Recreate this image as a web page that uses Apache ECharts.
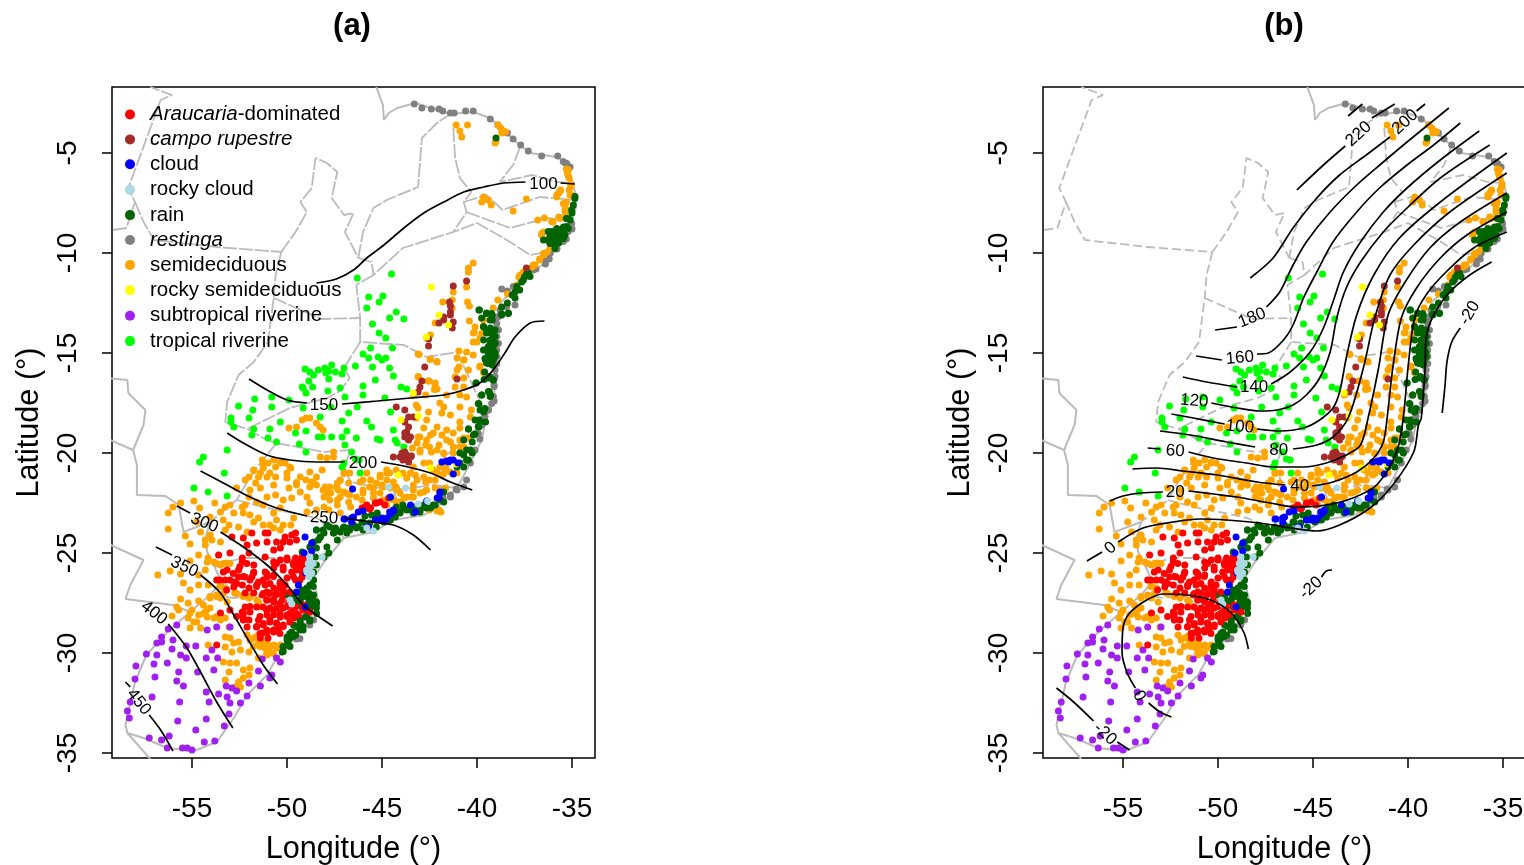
<!DOCTYPE html>
<html><head><meta charset="utf-8">
<style>html,body{margin:0;padding:0;background:#fff}#c{width:1524px;height:865px}</style>
<script src="https://cdn.jsdelivr.net/npm/echarts@6/dist/echarts.min.js"></script>
</head><body><div id="c"></div>
<script>
const lonTicks=[-55,-50,-45,-40,-35];
const latTicks=[-35,-30,-25,-20,-15,-10,-5];
const legendNames=['Araucaria-dominated','campo rupestre','cloud','rocky cloud','rain','restinga','semideciduous','rocky semideciduous','subtropical riverine','tropical riverine'];

const restinga=[[-43.3,-2.55],[-42.9,-2.75],[-42.4,-2.8],[-42,-2.8],[-41.8,-2.9],[-41.4,-3],[-41.2,-3],[-40.6,-2.9],[-40.2,-2.9],[-39.3,-3.3],[-38.9,-3.6],[-38.4,-4],[-38.1,-4.3],[-37.7,-4.6],[-37.3,-4.9],[-36.6,-5.15],[-35.75,-5.15],[-35.35,-5.5],[-35.1,-5.7],[-35,-8.8],[-35.3,-9.3],[-35.8,-9.8],[-36.2,-10.3],[-36.4,-10.55],[-36.9,-10.8],[-38.7,-11.8],[-38.4,-11.9],[-38,-12.6],[-39,-13.3],[-39,-13.8],[-39.05,-14.6],[-39.1,-16.3],[-39.1,-16.6],[-39.1,-17.4],[-39.4,-17.85],[-39.7,-18.3],[-39.85,-19.3],[-40.2,-19.9],[-40.45,-20.4],[-41.1,-21.8],[-41.4,-22.1],[-41.8,-22.2],[-48.8,-28.4],[-49.5,-29.3],
[-40.35,-20.5],[-40.55,-21.35],[-40.7,-21.7],[-41.05,-21.85],[-41.4,-22.2],[-40.1,-19.85],[-48.8,-28.6],[-48.6,-28.35],[-49.32,-29.27],[-35.46,-5.43],[-35.28,-5.52],[-36.16,-10.02],[-36.5,-10.35],[-37.04,-10.85],[-38.09,-11.68],[-35.02,-8.52],[-35.2,-8.93],[-35.46,-9.43],[-35.8,-9.77],[-38.87,-13.18],[-38.96,-13.52],[-38.87,-13.85],[-38.96,-14.18],[-38.87,-14.52],[-38.96,-14.85],[-38.96,-15.18],[-38.96,-15.52],[-39.05,-15.85],[-39.05,-16.18],[-39.1,-16.68],[-39.14,-17.18],[-39.23,-17.52],[-39.4,-17.85],[-39.58,-18.18],[-39.75,-18.6],[-39.93,-19.02],[-38.44,-12.68],[-38.79,-12.85]];

const semideciduous=[[-41.1,-3.6],[-40.5,-3.6],[-40.9,-3.9],[-40.8,-4.2],[-38.9,-3.6],[-38.75,-3.75],[-38.6,-3.9],[-38.5,-3.95],[-38.7,-4],[-39,-4.4],[-39.05,-4.5],[-35.3,-5.8],[-35.25,-6],[-35.15,-6.25],[-35.05,-6.55],[-35.15,-6.85],[-35.05,-7.1],[-35.6,-6.85],[-35.7,-7],[-35.8,-7.2],[-35.3,-7.45],[-35.35,-7.7],[-35.35,-8],[-35.7,-8.2],[-36,-8.45],[-36.45,-8.25],[-36.8,-8.35],[-36.5,-8.95],[-36.6,-9.1],[-39.65,-7.2],[-39.4,-7.35],[-39.75,-7.45],[-39.25,-7.6],[-37.4,-7.3],[-38.1,-7.9],[-36.15,-9.75],[-36.3,-9.95],[-36.5,-10.1],[-36.7,-10.35],[-36.95,-10.6],[-37.1,-10.7],[-37.55,-10.95],[-37.8,-11.2],[-37.7,-11.3],[-37.9,-11.6],[-38.4,-12.05],[-38.9,-12.35],[-39.15,-12.75],[-40.2,-10.5],[-40.45,-10.75],[-40.45,-10.95],[-40.55,-11.7],[-41.25,-11.95],[-40.5,-12.45],[-40.4,-12.65],[-41.8,-12.45],[-41.3,-12.35],[-41.3,-12.75],[-42.2,-13.5],[-40.4,-13.4],[-40.1,-13.7],[-39.65,-13.35],[-40.2,-14],[-39.85,-14.25],[-40,-14.45],[-40.2,-14.45],[-42.45,-14.1],[-42.65,-14.25],[-43.1,-15.05],[-42.45,-15.3],[-42.1,-15.45],[-40.95,-14.9],[-40.55,-14.95],[-41.05,-15.25],[-40.7,-15.35],[-40.2,-15.1],[-40.95,-15.7],[-40.45,-15.85],[-41.05,-15.85],[-39.85,-15.7],[-39.65,-15.95],[-41.15,-16.2],[-41.15,-16.7],[-40.7,-16.25],[-40.7,-16.7],[-43.1,-16.2],[-42.6,-16.4],[-42.2,-16.5],[-42.1,-16.8],[-40.9,-17.1],[-40.55,-17.2],[-41.6,-17.1],[-42.7,-17.1],[-43.35,-17.1],[-43.2,-17.6],[-43.1,-17.75],[-41.95,-17.5],[-41.75,-17.7],[-40.9,-17.7],[-40.3,-17.85],[-42.55,-17.95],[-41.85,-18],[-41.4,-18.1],[-40.35,-18.2],[-43.2,-18.25],[-42.65,-18.35],[-40.9,-18.45],[-48.8,-18.25],[-49.2,-18.35],[-48.45,-18.5],[-49,-18.25],
[-49.9,-18.75],[-48.1,-18.85],[-48.25,-18.7],[-49.5,-18.7],[-42.1,-18.7],[-41.6,-18.85],[-40.9,-18.75],[-42.8,-18.75],[-43.1,-19.2],[-42.45,-19.1],[-41.85,-19.1],[-41.25,-19],[-40.7,-19.25],[-40.45,-19.25],[-42.7,-19.6],[-42,-19.6],[-41.4,-19.45],[-40.9,-19.7],[-43.4,-19.75],[-43,-19.95],[-42.4,-19.95],[-41.75,-20],[-41.25,-20],[-51.3,-20.35],[-51,-20.5],[-50.35,-20.45],[-50.1,-20.5],[-50.6,-20.7],[-49.8,-20.75],[-51.75,-20.85],[-51.25,-20.75],[-52,-21.2],[-51.5,-21.2],[-51.05,-21.2],[-50.6,-21.2],[-50,-21.25],[-49.3,-21.2],[-48.8,-20.95],[-48.15,-20.85],[-47,-20.95],[-46.7,-21],[-48.7,-21.45],[-48.45,-21.6],[-47.2,-21.35],[-47.35,-21.5],[-46.75,-21.5],[-46.15,-21.45],[-45.6,-21.35],[-45.1,-21.1],[-44.75,-21],[-44.4,-21.45],[-43.7,-21.25],[-43.25,-21.1],[-42.7,-21.45],[-42.2,-21.35],[-41.65,-20.75],[-41.85,-21.1],[-41.4,-20.95],[-41.05,-21],[-41.65,-21.75],[-52.2,-21.35],[-51.65,-21.5],[-50.7,-21.6],[-49.5,-21.6],[-48.8,-21.7],[-48,-21.7],[-47.3,-21.85],[-47,-21.95],[-47.7,-22],[-46.7,-22.1],[-46,-21.85],[-45.45,-21.75],[-45,-21.6],[-44.2,-21.85],[-43.35,-21.6],[-42.8,-21.95],[-42.2,-21.75],[-43.45,-22.2],[-43.85,-22.25],[-44.2,-22.45],[-44.75,-22.6],[-52.65,-21.75],[-51.95,-21.85],[-51.4,-21.75],[-49.9,-21.75],[-49.3,-21.95],[-48.95,-22.2],[-48.05,-22.2],[-47.35,-22.35],[-46.75,-22.45],[-46.05,-22.35],[-45.45,-22.25],[-44.55,-21.75],[-52,-22.2],[-51.05,-22.2],[-50.6,-22.1],[-50.2,-22.35],[-49.75,-22.25],[-48.8,-22.5],[-48.05,-22.7],[-47.35,-22.6],[-46.65,-22.7],[-42.1,-22.9],[-42,-22.85],[-41.9,-22.95],
[-53.25,-22.7],[-53,-22.6],[-53.5,-22.95],[-52.8,-23],[-52.35,-22.7],[-52.2,-22.6],[-51.6,-22.45],[-51.25,-22.6],[-50.7,-23],[-50.35,-22.75],[-48.95,-22.95],[-48.45,-22.85],[-47.8,-22.85],[-47.2,-23],[-56,-22.7],[-56.25,-23],[-55.6,-22.5],[-54.9,-22.4],[-54.6,-22.75],[-53.8,-22.5],[-54.05,-23.2],[-54.75,-23.45],[-56.25,-23.8],[-53.35,-23.35],[-53.05,-23.6],[-52.3,-23],[-51.95,-23.1],[-51.75,-23.45],[-51.25,-23.6],[-50.9,-23.6],[-50.55,-23.35],[-50.2,-23.6],[-49.8,-23.6],[-49.65,-23.25],[-50.7,-23.75],[-50.35,-23.85],[-51.5,-23.25],[-52.1,-23.95],[-52.55,-23.7],[-53.25,-23.85],[-54.05,-24.1],[-54.55,-23.95],[-55.35,-24.15],[-54.3,-24.35],[-53.95,-24.35],[-53.5,-24.45],[-55.1,-24.55],[-54.3,-24.6],[-54.65,-25.1],[-54.15,-25.25],[-53.85,-25.45],[-55.1,-25.4],[-56.15,-25.9],[-56.8,-26.1],[-55.6,-26.05],[-54.3,-25.85],[-54.2,-25.45],[-54.65,-26.1],[-55.45,-26.5],[-55.1,-26.85],[-54.65,-26.6],[-54.15,-26.6],[-53.2,-25.5],[-53.5,-25.6],[-53.5,-26.6],[-53.25,-26.75],[-53.7,-27.1],[-54.05,-27.25],[-53.5,-27.25],[-53.15,-27.45],[-52.75,-27],[-52.3,-27.1],[-52,-27.25],[-51.5,-27.45],[-51.4,-27.7],[-55.6,-27.3],[-55.8,-27.7],[-55.2,-27.5],[-54.65,-27.4],[-54.4,-27.6],[-54.05,-27.75],[-55,-27.85],[-55.7,-27.85],[-55.1,-28],[-54.65,-28.1],[-54.3,-27.95],[-53.85,-28.25],[-53.5,-28.35],[-54.2,-28.2],[-54.75,-28.45],[-56.05,-28.15],[-55.2,-28.25],[-54.9,-28.45],[-55.1,-28.75],[-54.55,-28.75],[-53.25,-28.25],[-53.05,-28.7],[-53.25,-29.2],[-53,-29.25],[-52.8,-29.5],[-52.55,-29.45],[-52.1,-29.1],[-51.75,-29.25],[-51.5,-29.45],[-51.05,-29.45],[-50.7,-29.6],[-50.35,-29.6],[-51.15,-29.75],[-50.9,-29.95],[-50.55,-29.75],[-52,-29.95],[-52.45,-29.85],[-52.9,-29.95],[-54.15,-29.6],[-53.25,-29.7],[-53.35,-30.45],[-53,-30.5],[-52.65,-30.5],[-53.05,-30.95],[-52.3,-30.85],[-51.95,-30.75],[-52,-31.1],[-52.3,-31.25],[-52.55,-31.45],[-52.75,-31.7],[-53.25,-31.35],[-52.45,-31.7],[-51.05,-30.1],[-51.5,-30.25],
[-42.5,-19.7],[-42.65,-19.35],[-43,-19.85],[-42.1,-19.85],[-41.75,-20.02],[-41.25,-19.7],[-40.9,-19.35],[-40.7,-19.7],[-41.95,-20.7],[-42.1,-21],[-41.75,-21.02],[-42.5,-21.35],[-42.8,-21.2],[-43.15,-21.35],[-43.5,-21],[-43.9,-21],[-44.25,-20.85],[-44.75,-20.85],[-45.1,-21.2],[-44.75,-21.35],[-45.3,-21.5],[-45.65,-21.7],[-46,-22],[-46.35,-22.2],[-45.45,-22],[-45.1,-22],[-44.95,-22.35],[-44.05,-22],[-43.7,-22.2],[-43.35,-21.85],[-43,-22],[-42.65,-21.85],[-44.25,-21.7],[-44.6,-21],[-44.95,-21.7],[-44.4,-22.35],[-44.05,-22.45],[-43.9,-22.7],[-43.35,-22.2],[-46,-21.35],[-45.8,-21],[-47,-21.02],[-47.2,-21.38],[-47.4,-21.7],[-47.75,-21.7],[-47.9,-22.02],[-47.75,-22.35],[-47.2,-22.2],[-46.85,-22.02],[-48.1,-21.85],[-49,-21.35],[-48.6,-21.5],[-48.45,-21.2],[-49.5,-21.48],[-49.85,-20.7],[-50,-21],[-50.35,-20.5],[-50.7,-20.35],[-50.9,-21],[-51.25,-20.5],[-51.4,-21],[-51.75,-20.88],[-42.1,-22.85],[-42.5,-22.85],[-41.95,-21.85],[-47.55,-20.2],[-47.55,-19.95],[-47.9,-20.25],[-48.25,-20.2],[-43.35,-20.7],[-42.8,-20.5],[-43.15,-19.5],[-43,-19.2],[-42.3,-19],[-41.6,-19.35],[-42.5,-20.5],[-42.3,-20.85],
[-53.7,-25.52],[-53.35,-25.52],[-53,-25.52],[-53.53,-26.68],[-53.35,-27.02],[-53.7,-27.18],[-54.05,-27.18],[-52.65,-27.02],[-52.3,-27.18],[-51.95,-27.18],[-51.6,-27.35],[-51.42,-27.68],[-54.4,-28.02],[-54.23,-27.85],[-53.7,-28.18],[-51.6,-29.18],[-51.25,-29.52],[-50.9,-29.68],[-50.55,-29.68],[-51.95,-29.35],[-51.07,-30.02],[-51.42,-29.68],[-50.72,-30.02],[-51.77,-29.68],
[-35.19,-5.85],[-35.19,-6.18],[-35.07,-6.68],[-35.1,-7.1],[-35.63,-6.93],[-35.8,-7.1],[-35.46,-7.52],[-35.37,-7.85],[-35.63,-8.27],[-36.07,-8.43],[-36.6,-9.02],[-36.5,-10.02],[-36.7,-10.3],[-37.04,-10.6],[-37.74,-11.1],
[-39.75,-13.27],[-39.75,-14.02],[-40.15,-13.97],[-40.68,-15.35],[-39.84,-15.65],[-39.66,-15.98],[-42.51,-16.4],[-42.21,-16.6],[-42.24,-16.82],[-43.09,-16.18],[-42.47,-15.32],[-42.12,-15.43],[-43.05,-15.07]];

const subtropicalRiverine=[[-55.8,-28.6],[-56.25,-28.8],[-56.6,-29.2],[-56.6,-29.45],[-56.85,-29.5],[-56,-29.35],[-57.4,-30.05],[-56.85,-30.1],[-56.05,-29.8],[-55.6,-30.1],[-55.3,-30.25],[-55.3,-29.65],[-54.8,-29.65],[-54.2,-28.85],[-53.7,-28.7],[-53,-28.7],[-53.95,-29.85],[-53.65,-30.25],[-54.25,-30.25],[-56.3,-30.5],[-57,-30.55],[-57.95,-30.65],[-55.7,-30.95],[-54.7,-30.95],[-53.85,-30.85],[-58,-31.3],[-56.95,-31.2],[-55.8,-31.4],[-55.45,-31.65],[-53.2,-31.65],[-52.9,-31.75],[-52.65,-31.9],[-52,-31.5],[-51.4,-31.65],[-51.5,-30.9],[-50.8,-31.1],[-50.9,-31.25],[-50.55,-30.25],[-50.35,-30.45],[-51.3,-30.3],[-57.1,-32.2],[-54.25,-31.95],[-53.6,-32.05],[-53.15,-32.2],[-52.1,-32.15],[-52.45,-32.5],[-55.65,-32.45],[-53,-32.5],[-54.1,-32.45],[-58.25,-32.45],[-58.4,-32.9],[-58.3,-33.25],[-55.75,-33.4],[-54.25,-33.3],[-53.05,-33.05],[-53.3,-33.65],[-54.8,-33.85],[-57.25,-34.25],[-56.6,-34.35],[-56.2,-34.15],[-56.3,-34.75],[-54.35,-34.45],[-53.8,-34.4],[-55.5,-34.75],[-55.25,-34.75],[-55,-34.85]];

const tropicalRiverine=[[-46.3,-11.25],[-44.5,-11.05],[-45.7,-12.2],[-44.95,-12.15],[-45.8,-12.75],[-45.15,-12.45],[-44.25,-12.95],[-43.85,-13.3],[-44.6,-13.25],[-45.5,-13.55],[-45.15,-14],[-44.8,-14.25],[-44.45,-14.75],[-45.6,-14.75],[-46,-15.05],[-45.7,-15.25],[-45.2,-15.2],[-45,-15.35],[-44.8,-15.25],[-46.4,-15.65],[-45.5,-15.7],[-44.6,-15.75],[-49.05,-15.8],[-48.8,-15.95],[-48.6,-16.1],[-48.35,-15.85],[-48,-15.75],[-47.65,-15.6],[-47.8,-15.9],[-47.45,-15.95],[-47.95,-16],[-47.1,-16.05],[-47,-15.75],[-44.4,-16.15],[-45.35,-16.35],[-48.85,-16.4],[-47.8,-16.3],[-48.65,-16.7],[-49.2,-16.7],[-49.15,-16.75],[-47.2,-16.75],[-46,-16.65],[-44,-16.7],[-43.7,-16.8],[-49,-17],[-47.85,-16.9],[-46,-17.1],[-46.95,-17.2],[-44.85,-17.25],[-51.7,-17.3],[-50.8,-17.2],[-49.9,-17.35],[-52.55,-17.65],[-50.8,-17.7],[-51.8,-17.85],[-49.15,-17.75],[-47.7,-17.7],[-46.3,-17.7],[-44.55,-17.95],[-46.75,-18],[-52,-18.25],[-52.95,-18.25],[-52.95,-18.45],[-48.25,-18.2],[-47.1,-18.4],[-45.8,-18.4],[-50.35,-18.45],[-52.8,-18.7],[-51.75,-18.8],[-50.9,-18.8],[-49,-18.9],[-49.55,-19],[-51.85,-19.1],[-51,-19.25],[-50.55,-19.45],[-53.15,-19.85],[-49.35,-19.55],[-49,-19.95],[-48.35,-19.2],[-48.15,-19.2],[-47.65,-19.2],[-47.1,-19.2],[-46.85,-18.9],[-46.35,-19.25],[-46.95,-19.6],[-46.6,-19.95],[-47,-20.5],[-47.1,-20.7],[-54.4,-20.2],[-54.6,-20.45],[-53.3,-21],[-54.9,-21.75],[-54.15,-21.95],[-53.15,-22.15],[-46.15,-21],[-44.3,-19.35],[-44.2,-19.5],[-43.85,-19.7],[-45.25,-19.3],[-45.1,-19.35],[-45.55,-18.7],[-44.4,-18.85],[-46.4,-20.3],[-46.2,-20.35]];

const rain=[[-39,-4.25],[-34.85,-7.27],[-34.93,-7.6],[-35,-8],[-35.1,-8.35],[-35.2,-8.77],[-35.45,-8.7],[-35.8,-8.77],[-36.07,-8.93],[-35.6,-9],[-35.9,-9.2],[-35.45,-9.27],[-36.3,-9.35],[-36.07,-9.43],[-35.7,-9.5],[-35.9,-9.77],[-35.37,-9.1],[-36.25,-8.93],[-35.3,-8.27],[-35.6,-8.85],[-35.9,-9],[-36.1,-9.2],[-35.7,-9.3],[-35.5,-9],[-37.3,-11],[-37.5,-11.2],[-37.65,-11.45],[-38,-11.95],[-37.75,-11.85],[-38.15,-12.1],[-38,-12.25],[-38.4,-12.5],[-38.7,-12.7],[-38.35,-13],[-38.7,-13.05],[-39.9,-12.85],[-39.5,-13],[-39.2,-13.1],[-39.75,-13.25],[-39.2,-13.35],[-39.65,-13.7],[-39.3,-13.75],[-39.05,-13.85],[-39.5,-14],[-39.15,-14.2],[-39.65,-14.35],[-39.3,-14.45],[-39.05,-14.5],[-39.55,-14.85],[-39.25,-14.75],[-39.05,-15],[-39.4,-15.1],[-39.55,-15.35],[-39.15,-15.35],[-39.5,-15.5],[-39.2,-15.6],[-39.6,-15.95],[-39.4,-16.25],[-39.15,-16.35],[-40.05,-16.5],[-39.35,-16.95],[-39.75,-17.1],[-39.3,-17.1],[-39.9,-17.55],[-39.65,-17.95],[-39.9,-18.35],[-39.55,-18.45],
[-39.9,-18.7],[-40.45,-18.8],[-40.1,-19.05],[-40.25,-19.45],[-40.55,-19.85],[-40.25,-20],[-40.7,-20.1],[-40.45,-20.35],[-40.9,-20.5],[-41.75,-21.95],[-41.95,-22.35],[-42.2,-22.6],[-42.45,-22.75],[-42.8,-22.7],[-43,-22.85],[-43.25,-22.7],[-43.5,-22.85],[-43.85,-22.75],[-44.05,-22.95],[-44.3,-23.2],[-44.55,-23.35],[-44.9,-23.45],[-45.25,-23],[-45.55,-23.1],[-45.9,-23.15],[-46.05,-23.45],[-46.25,-23.7],[-46.5,-23.6],[-46.75,-23.75],[-47,-23.7],[-47.2,-23.95],[-47.45,-23.75],[-47.55,-24],[-47.35,-24.35],[-47.9,-23.6],[-48.05,-24],[-48.25,-24.2],[-48.45,-23.85],[-48.35,-24.35],[-48.6,-24.45],[-47.9,-24.7],[-47.8,-25],[-48.05,-25.2],[-48.45,-24.75],[-48.5,-25.2],[-49.2,-24.95],[-48.8,-24.7],[-48.45,-25.6],[-48.6,-25.95],[-48.6,-26.35],[-48.8,-26.6],[-49.2,-26.85],[-48.85,-27],[-49.2,-27.2],[-48.85,-27.45],[-48.6,-27.1],[-48.45,-27.45],[-48.8,-27.75],[-48.45,-27.75],[-49.05,-28.2],[-48.8,-28.4],[-49.3,-28.45],[-49.4,-28.7],[-49.15,-28.85],[-49.65,-28.6],[-49.75,-28.95],[-50,-29.2],[-49.55,-29.1],[-49.95,-29.45],[-50.2,-29.7],[-49.85,-29.25],[-50.25,-29.95],[-50,-27.1],[-49.65,-27.25],[-49.5,-27.45],[-49.05,-27.1],[-48.7,-27.25],[-48.95,-26.75],[-49.3,-27.45],[-49,-27.85],[-48.6,-27.5],[-48.8,-27.35],[-49.2,-27.7],
[-41.75,-22.45],[-42.3,-22.6],[-42.65,-22.75],[-43,-22.95],[-43.35,-23],[-43.7,-22.85],[-44.05,-23],[-44.3,-23.1],[-44.75,-23.35],[-45.3,-23.7],[-45.65,-23.5],[-46,-23.45],[-46.35,-23.75],[-46.7,-23.85],[-47.05,-23.75],[-47.4,-23.85],[-47.75,-23.7],[-48.1,-23.85],[-48.45,-23.85],[-48.25,-24.2],[-47.55,-24],[-46.85,-24],[-46,-23.85],[-45.3,-23.1],[-44.25,-22.7],[-43.5,-22.7],[-42.8,-22.6],[-43.9,-22.6],[-40.7,-19.35],[-40.9,-20],[-40.55,-20.35],[-40.35,-19.85],[-41.05,-20.7],[-40.7,-20.7],
[-48.97,-26.85],[-48.62,-26.68],[-49.32,-27.02],[-48.97,-27.18],[-48.62,-27.35],[-49.32,-27.35],[-49.67,-27.18],[-48.44,-27.52],[-48.79,-27.68],[-48.44,-28.02],[-48.97,-28.18],[-49.32,-28.35],[-48.79,-28.35],[-49.5,-28.68],[-49.15,-28.68],[-49.85,-29.02],[-50,-29.35],[-49.67,-29.18],[-50.2,-29.68],[-49.84,-29.68],[-50.2,-29.93],[-49.32,-28.85],
[-34.84,-7.18],[-35.02,-7.85],[-35.2,-8.27],[-35.28,-8.68],[-35.63,-8.85],[-35.9,-8.93],[-35.46,-9.1],[-35.72,-9.35],[-36.16,-9.18],[-36.5,-9.35],[-36.16,-9.52],[-35.9,-9.6],[-37.39,-11.02],[-37.56,-11.35],[-37.21,-11.18],[-37.91,-11.68],
[-39.87,-12.85],[-39.49,-13.02],[-39.23,-13.02],[-39.31,-13.35],[-39.66,-13.68],[-39.49,-13.85],[-39.23,-14.02],[-39.05,-14.18],[-39.31,-14.35],[-39.05,-14.52],[-39.4,-14.68],[-39.66,-14.85],[-39.14,-14.85],[-39.31,-15],[-39.58,-15.27],[-39.31,-15.35],[-39.05,-15.18],[-39.4,-15.52],[-40.05,-16.5],[-39.63,-16.32],[-39.35,-16.18],[-39.14,-16.35],[-39.4,-16.93],[-39.75,-17.1],[-39.31,-17.18],[-39.93,-17.52],[-39.84,-17.85],[-39.58,-17.77],[-40.1,-18.35],[-39.84,-18.43],[-39.93,-18.68],[-40.45,-18.8],[-40.19,-19.1],[-38.7,-13.1],[-38.35,-13.02]];

const campoRupestre=[[-41.25,-11.65],[-40.55,-11.4],[-41.45,-12.45],[-41.4,-12.65],[-41.4,-12.95],[-41.4,-13.1],[-41.75,-13.2],[-41.75,-13.35],[-42,-13.5],[-41.25,-13.45],[-41.3,-13.75],[-42.55,-14.3],[-42.55,-14.65],[-42.75,-15.7],[-41.05,-16.3],[-42.9,-16.4],[-43,-16.7],[-43.1,-16.95],[-44.25,-17.7],[-43.8,-17.85],[-43.6,-18.2],[-43.35,-18.2],[-43.8,-18.45],[-37.4,-10.75],[-43.6,-18.7],[-43.7,-18.95],[-43.8,-19.2],[-43.5,-19.2],[-44.4,-20.2],[-43.95,-20],[-44.05,-20.2],[-43.8,-20.2],[-43.5,-20.2],[-43.9,-20.35],[-43.6,-20.45],[-43.8,-19.95],[-43.9,-20.1],[-43.7,-20.1],[-43.45,-20.15],[-43.8,-19],[-43.6,-19.35]];

const rockySemideciduous=[[-42.4,-11.7],[-42,-13.1],[-41.5,-13.6],[-42.65,-14.2],[-43.35,-17],[-44,-18.35],[-43.1,-18.15],[-42.45,-20.75],[-44.15,-21.1],[-41.1,-20.55]];

const araucaria=[[-51.15,-24],[-51,-24],[-50.1,-24.2],[-49.75,-24.1],[-49.55,-24],[-51.05,-24.45],[-50.55,-24.45],[-50.2,-24.45],[-49.85,-24.45],[-49.5,-24.35],[-52.9,-24.2],[-52.3,-24.25],[-51.85,-24],[-53,-25],[-52.1,-24.6],[-52,-25],[-51.6,-24.5],[-50.7,-24.85],[-50.35,-24.75],[-53.6,-25.1],[-52.35,-25.25],[-52.35,-25.45],[-51.75,-25.6],[-51.15,-25.2],[-50.7,-25.45],[-50.35,-25.35],[-50,-25.25],[-49.55,-25.25],[-49.2,-25.2],[-49.05,-25.35],[-49.65,-25.6],[-49.3,-25.6],[-48.95,-25.5],[-53.15,-25.85],[-53.35,-25.95],[-52.55,-25.85],[-51.75,-25.95],[-51.15,-25.95],[-50.7,-25.75],[-50.2,-25.7],[-49.75,-25.95],[-49.2,-25.95],[-49.15,-25.75],[-53.7,-26.35],[-53.25,-26.35],[-52.8,-26.45],[-52.55,-26.2],[-52.2,-26.2],[-51.85,-26.2],[-51.5,-26.45],[-51.05,-26.2],[-50.7,-26.1],[-50.35,-26.45],[-50,-26.25],[-49.55,-26.35],[-49.2,-26.2],[-52.8,-26.7],[-52.35,-26.6],[-52,-26.75],[-51.6,-26.6],[-51.15,-26.6],[-50.7,-26.75],[-50.35,-26.75],[-50.1,-26.6],[-52.2,-27],[-51.75,-27],[-51.3,-27.1],[-51.05,-26.95],[-50.6,-27.1],[-50.25,-27.1],[-49.85,-26.95],[-51.05,-27.35],[-50.7,-27.45],[-50.25,-27.35],[-49.9,-27.45],[-49.55,-27.7],[-49.15,-27.85],[-48.8,-27.95],[-52.2,-27.7],[-52.35,-27.95],[-51.95,-27.95],[-51.6,-27.7],[-51.25,-27.7],[-50.9,-27.75],[-50.55,-27.75],[-50.2,-27.75],[-49.75,-27.95],[-52.3,-28.2],[-52,-28.35],[-51.5,-28.35],[-51.05,-28.1],[-50.7,-28.1],[-50.35,-28.2],[-50,-28.1],[-49.65,-28.25],[-49.4,-28.1],[-52.1,-28.7],[-51.6,-28.7],[-51.25,-28.6],[-50.9,-28.45],[-50.55,-28.5],[-50.2,-28.6],[-49.85,-28.45],[-51.3,-29],[-51.05,-28.95],[-50.7,-28.95],[-50.45,-28.75],[-51.4,-29.25],[-51,-29.25],[-53.7,-29.6],[-53.5,-28],[-45.8,-22.6],[-46.05,-22.75],[-45.6,-22.75],[-45.35,-22.5],[-45.1,-22.45],[-44.65,-22.25],[-49.3,-25.4],[-49,-25.65],[-49.4,-25.8],[-49.6,-25.4],
[-49.32,-25.35],[-48.97,-25.52],[-49.67,-25.52],[-49.5,-25.85],[-49.15,-26.02],[-49.67,-26.18],[-49.32,-26.35],[-50.2,-25.85],[-50,-25.35],[-50.55,-25.52],[-51.07,-26.02],[-50.72,-26.18],[-50.37,-26.52],[-50.9,-26.52],[-51.25,-26.35],[-51.6,-26.68],[-51.95,-26.35],[-52.3,-26.18],[-52.65,-26.52],[-52.83,-26.02],[-52.48,-25.68],[-52.12,-25.52],[-51.77,-26.02],[-53,-26.35],[-53.18,-26.85],[-53.53,-26.35],[-51.25,-27.02],[-50.9,-27.02],[-50.55,-27.02],[-50.2,-26.85],[-50.72,-27.35],[-51.07,-27.35],[-50.37,-27.52],[-50,-27.68],[-50.72,-27.85],[-51.07,-27.85],[-51.42,-28.18],[-50.37,-28.02],[-50,-28.18],[-50.9,-28.35],[-51.25,-28.52],[-51.6,-28.68],[-50.55,-28.52],[-50.2,-28.68],[-51.07,-28.85],[-50.72,-28.85],[-50.37,-29.02],[-51.42,-29.02],[-52.3,-28.02],[-52.65,-28.18],[-52.3,-28.35],[-53,-27.85],[-51.95,-27.68],[-49.67,-27.68],[-49.85,-28.02],[-49.5,-28.02],[-49.15,-27.6],[-45.9,-22.7],[-45.65,-22.8],[-45.3,-22.5],[-44.85,-22.6]];

const cloud=[[-46.55,-21.8],[-44.55,-22.2],[-41.85,-20.45],[-41.5,-20.45],[-41.25,-20.35],[-41,-20.5],[-41.25,-21.05],[-42,-22.25],[-41.95,-22],[-43.5,-22.6],[-43.25,-22.95],[-42.65,-22.4],[-44.4,-22.9],[-44.55,-23.05],[-44.85,-23.35],[-45.1,-23.35],[-45.35,-23.35],[-46,-22.9],[-46.25,-22.95],[-46.6,-23.45],[-47,-23.3],[-46.6,-23.25],[-45.7,-23.7],[-49.05,-24.2],[-48.7,-24.5],[-48.7,-24.9],[-49.1,-25],[-49,-26],[-49.4,-26.6],[-49.5,-26.95],[-49.05,-27.7],[-41.6,-20.4],[-41.4,-20.35],[-41.95,-21.95],[-42.1,-22.25],[-45,-23.25],[-44.75,-23.25],[-44.4,-22.85],[-44.6,-22.95],[-46.95,-23.3],[-46.5,-23.2],[-45.8,-23.7]];

const rockyCloud=[[-44.65,-21.7],[-43.75,-21.75],[-43.1,-22.55],[-42.6,-22.4],[-45.45,-23.9],[-45.8,-23.75],[-48.15,-25.2],[-48.8,-25.25],[-48.8,-25.7],[-48.95,-25.95],[-48.7,-26],[-48.85,-26.2],[-49.75,-27.55],[-48.97,-25.85],[-48.62,-25.52],[-48.88,-25.52],[-49.84,-27.35],[-48.8,-25.2]];

const coastLine=[[-44.9,-3.35],[-44.65,-3],[-44.2,-2.75],[-43.25,-2.5],[-42.45,-2.75],[-41.4,-3.05],[-40.2,-2.95],[-39.3,-3.25],[-38.45,-4],[-37.75,-4.6],[-37.2,-5],[-35.8,-5.2],[-35.25,-5.5],[-34.85,-6.95],[-34.8,-7.75],[-35.1,-8.6],[-35.65,-9.6],[-36.35,-10.45],[-37.2,-11],[-37.9,-11.75],[-38.75,-12.45],[-38.95,-13.25],[-38.95,-14.6],[-39.05,-15.95],[-39.1,-17.45],[-39.5,-18.1],[-39.75,-19.35],[-40.35,-20.5],[-41.05,-21.75],[-41.95,-22.6],[-42.8,-23.1],[-44.4,-23.35],[-45.45,-23.95],[-47,-24.25],[-48.05,-25.45],[-48.6,-26.25],[-48.35,-27.45],[-48.8,-28.25],[-49.85,-29.6],[-50.55,-30.25],[-51.05,-31.1],[-52.1,-32.1],[-52.8,-33.25],[-53.7,-34.45],[-54.9,-34.9],[-56.3,-34.75],[-57.55,-34.25],[-58.4,-34],[-58.5,-33.6],[-58.35,-32.95],[-58,-31.45],[-57.4,-30.1],[-56.3,-28.95],[-55.1,-27.95]];
const westBorder=[[-55.1,-27.95],[-54.05,-27.1],[-53.45,-26.45],[-53.85,-25.6],[-54.2,-24.95],[-54.3,-24.25],[-54.05,-23.45],[-55.45,-23.95],[-55.7,-22.6],[-56.4,-22.15],[-57.9,-22.1],[-57.9,-20.6],[-58.1,-19.85],[-57.55,-18.6],[-57.45,-17.85],[-58.35,-17],[-58.4,-16.35],[-59.5,-16.25]];
const paraguayBorder=[[-59.5,-24.5],[-57.55,-25.35],[-58.25,-26.6],[-58.5,-27.3],[-56,-27.6],[-55.1,-27.95]];
const boliviaBorder=[[-59.3,-19.35],[-58.1,-19.85]];
const laPlataShore=[[-58.4,-34],[-57.2,-35.3]];
const northShore=[[-44.9,-3.35],[-44.95,-2.6],[-45.3,-1.7]];

const stateBorders=[
[[-59.15,-8.85],[-58.45,-8.75],[-58,-7.45],[-58.35,-6.75],[-56.65,-2.35],[-56.05,-2.1],[-57.2,-1.7]],
[[-58,-7.45],[-57.55,-8.45],[-57,-9.35],[-53.7,-9.7],[-50.3,-9.95]],
[[-50.3,-9.95],[-50.6,-11.1],[-50.7,-12.25],[-51,-14.45],[-51.75,-15.45],[-52.55,-16.1],[-53.15,-17.45],[-53.25,-18.45],[-52.1,-18.8],[-51.05,-19.35],[-50.55,-19.5],[-51.6,-20.75],[-52.1,-21.45],[-52.65,-22.35],[-54.05,-23.45]],
[[-50.3,-9.95],[-49.55,-8.95],[-48.95,-7.95],[-49.3,-7.45],[-48.7,-6.75],[-48.5,-5.25],[-47.9,-5.5],[-47.35,-5.95],[-47.65,-7.25],[-47,-8.1],[-46.5,-8],[-46.95,-8.95],[-46.25,-10.25]],
[[-46.25,-10.25],[-46,-8.95],[-45.45,-7.75],[-44.75,-7.35],[-43.1,-6.7],[-42.9,-4.25],[-42.05,-3.45],[-41.4,-3.05]],
[[-46.25,-10.25],[-45.55,-10.45],[-45.45,-11.1],[-43.9,-9.75],[-41.25,-8.95],[-40,-8.5],[-38.25,-9.45],[-37.2,-10.1],[-36.3,-9.95]],
[[-41.25,-3.75],[-41.15,-5.25],[-40.9,-6.25],[-40.3,-6.95],[-40.7,-7.45],[-40.55,-7.95],[-41.25,-8.95]],
[[-40.7,-7.45],[-39.5,-7.1],[-38.65,-7.85],[-36.7,-7.2],[-34.85,-7.35]],
[[-37.75,-4.75],[-38.1,-5.6],[-38.8,-6.45],[-37.1,-6.1],[-35.8,-6.45],[-34.85,-6.5]],
[[-40.55,-7.95],[-38.25,-8.75],[-36.3,-8.25],[-35,-8.4]],
[[-45.45,-11.1],[-46.35,-11.6],[-46.15,-13.25],[-46.15,-14.45],[-43.85,-14.6],[-42.65,-15.2],[-41.05,-14.95],[-39.85,-17.4],[-39.5,-18.1]],
[[-50.7,-12.25],[-48.2,-13.3],[-46.15,-13.25]],
[[-46.15,-14.45],[-47,-15.75],[-46.7,-16.25],[-47.2,-16.9],[-47.9,-17.25],[-49.85,-17.75],[-52.1,-18.8]],
[[-50.55,-19.5],[-48.05,-19.95],[-46.65,-19.85],[-47,-20.75],[-46.65,-21.45],[-45.1,-21.75],[-44.4,-21.85],[-43.5,-21.75],[-42.3,-21.6],[-41.05,-21.75]],
[[-52.65,-22.35],[-51.05,-22.75],[-49.65,-23],[-48.45,-23.25],[-47.35,-23.75],[-47,-24.25]],
[[-39.75,-18.6],[-41.05,-19.6],[-41.75,-20.25],[-42.2,-21.25],[-42.3,-21.6]],
[[-44.4,-21.85],[-44.05,-22.85]],
[[-53.85,-25.6],[-52.3,-25.25],[-51.4,-25.25],[-50.2,-25.25],[-48.6,-25.6]],
[[-54.05,-27.1],[-52.8,-27.25],[-51.75,-27.1],[-50.7,-27.25],[-49.85,-27.6],[-48.8,-28.1]]];

const contoursA=[
[[-48.45,-11.5],[-47.4,-11.3],[-46.5,-10.85],[-45.8,-10.25],[-44.9,-9.6],[-43.85,-8.75],[-42.8,-8],[-41.75,-7.45],[-40.7,-6.95],[-39.65,-6.7],[-38.6,-6.5],[-37.45,-6.45]],
[[-35.6,-6.5],[-34.85,-6.55]],
[[-52,-16.3],[-51.05,-16.85],[-50,-17.35],[-48.95,-17.5]],
[[-47.1,-17.55],[-45.25,-17.4],[-43.5,-17.25],[-41.75,-17.1],[-40.7,-16.85],[-39.85,-16.5],[-39.15,-15.85],[-38.5,-14.95],[-38,-14.2],[-37.2,-13.5],[-36.45,-13.4]],
[[-53.15,-19],[-52.3,-19.5],[-51.05,-20.1],[-49.85,-20.35],[-48.45,-20.45],[-46.95,-20.45]],
[[-45.05,-20.45],[-43.85,-20.65],[-42.45,-21],[-41.4,-21.45],[-40.25,-21.85]],
[[-54.55,-20.9],[-53.35,-21.5],[-51.95,-22.2],[-50.55,-22.75],[-48.95,-23.15]],
[[-47,-23.25],[-45.6,-23.45],[-44.4,-23.6],[-43.35,-24.1],[-42.45,-24.85]],
[[-55.8,-22.65],[-55.1,-23]],
[[-53.5,-23.95],[-52.3,-24.7],[-51.05,-25.6],[-50,-26.6],[-49.15,-27.6],[-48.45,-28.1],[-47.6,-28.65]],
[[-56.9,-24.7],[-56.05,-25.1]],
[[-54.55,-26.1],[-53.5,-27],[-52.8,-28.1],[-52.1,-29.25],[-51.25,-30.6],[-50.5,-31.55]],
[[-56.25,-28.55],[-55.3,-29.7],[-54.55,-30.95],[-53.7,-32.45],[-52.85,-33.75]],
[[-58.5,-31.45],[-58.25,-31.7]],
[[-57.25,-33.1],[-56.65,-33.85],[-56,-34.9]]];
const contourLabelsA=[[-36.5,-6.55,'100',0],[-48.05,-17.6,'150',0],[-46,-20.5,'200',0],[-48.05,-23.25,'250',-3],[-54.35,-23.5,'300',-22],[-55.4,-25.7,'350',-25],[-57,-28,'400',-38],[-57.8,-32.45,'450',-52]];

const contoursB=[
[[-43.15,-3.15],[-42.4,-2.55]],
[[-45.85,-6.85],[-44.45,-5.6],[-43.3,-4.65]],
[[-41.9,-3.25],[-40.7,-2.55]],
[[-48.3,-11.25],[-47.1,-10.25],[-46.05,-8.75],[-44.8,-7.25],[-43.6,-6.1],[-42.2,-5.1],[-40.95,-4.2]],
[[-39.55,-2.9],[-39.1,-2.55]],
[[-50.15,-13.85],[-49,-13.7]],
[[-47.45,-12.7],[-46.75,-11.95],[-46.05,-10.6],[-45.35,-9.45],[-44.1,-7.95],[-42.7,-6.6],[-41.3,-5.45],[-40.05,-4.45],[-37.85,-2.75]],
[[-51.15,-15.15],[-49.8,-15.35]],
[[-47.95,-15.05],[-47.35,-15],[-46.55,-14.35],[-46.05,-13.6],[-45.5,-12.25],[-44.8,-10.95],[-43.95,-9.45],[-42.7,-7.95],[-41.5,-6.75],[-40.05,-5.6],[-38.65,-4.6],[-37.25,-3.5]],
[[-51.85,-16.2],[-50.6,-16.45],[-49,-16.7]],
[[-47.2,-16.55],[-46.2,-15.95],[-45.15,-14.95],[-44.45,-13.75],[-43.95,-12.45],[-43.4,-10.95],[-42.5,-9.45],[-41.3,-7.95],[-40.05,-6.75],[-38.3,-5.35],[-36.25,-3.9]],
[[-50.35,-17.5],[-49,-17.75],[-47.8,-17.9],[-46.9,-17.85],[-46.05,-17.6],[-45.35,-17.1],[-44.65,-16.25],[-44.1,-14.95],[-43.75,-13.25],[-43.25,-11.75],[-42.5,-10.45],[-41.3,-8.95],[-40.05,-7.75],[-38.3,-6.25],[-35.7,-4.6]],
[[-52.45,-18.05],[-51.3,-18.25],[-49.65,-18.55]],
[[-47.95,-18.8],[-46.75,-18.9],[-45.5,-18.75],[-44.65,-18.35],[-43.95,-17.75],[-43.6,-16.95],[-43.25,-15.25],[-42.7,-13.1],[-41.8,-11.1],[-40.45,-9.25],[-38.3,-7.45],[-34.8,-5]],
[[-53.05,-18.9],[-51.45,-19.1],[-49.55,-19.45],[-48.05,-19.7]],
[[-46.05,-19.8],[-44.8,-19.6],[-43.95,-19.2],[-43.15,-18.25],[-42.35,-15.75],[-41.75,-13.25],[-40.95,-11.1],[-39.7,-9.6],[-37.8,-7.95],[-34.8,-6]],
[[-53.7,-19.75],[-53.05,-19.8]],
[[-51.55,-19.95],[-50.25,-20.25],[-48.5,-20.5],[-47.1,-20.7],[-45.5,-20.7],[-44.3,-20.5],[-43.25,-20.1],[-42.5,-19.6],[-42.1,-18.25],[-41.55,-15.75],[-41.05,-13.1],[-40.15,-11.45],[-38.85,-9.75],[-37.25,-8.45],[-34.8,-7]],
[[-54.5,-20.8],[-53.25,-20.75],[-51.85,-20.9],[-50.05,-21.1],[-47.95,-21.45],[-46.45,-21.6]],
[[-45.05,-21.65],[-43.95,-21.45],[-42.7,-20.95],[-41.8,-20.25],[-41.3,-19.45],[-41.1,-18.25],[-40.8,-15.75],[-40.35,-13.25],[-39.55,-11.75],[-38.3,-10.25],[-36.9,-9.1],[-34.8,-7.95]],
[[-55.7,-22.4],[-55,-22.15],[-54.1,-22],[-52.9,-21.95]],
[[-51.55,-21.9],[-50.25,-22.05],[-49,-22.2],[-47.25,-22.5],[-45.85,-22.7],[-44.3,-22.6],[-42.9,-22.25],[-41.65,-21.6],[-40.6,-19.95],[-40.25,-18.25],[-40,-15.75],[-39.65,-13.25],[-39.05,-12.1],[-38,-10.95],[-36.55,-9.75],[-34.8,-8.95]],
[[-56.9,-25.4],[-56.1,-24.95]],
[[-55.25,-24.45],[-53.95,-23.75],[-52.35,-23.45],[-50.95,-23.3],[-49.55,-23.35],[-47.8,-23.5],[-46.2,-23.75],[-44.8,-23.9],[-43.6,-23.6],[-42,-22.75],[-40.8,-21.6],[-39.7,-19.95],[-39.45,-18.6],[-39.3,-18.25],[-39.1,-15.75],[-39.05,-14.25],[-38.65,-13.1],[-37.8,-11.95],[-36.75,-11.1],[-35.6,-10.45]],
[[-48.4,-29.8],[-48.65,-28.95],[-49.35,-27.95],[-50.4,-27.35],[-51.65,-27.1],[-52.9,-27.05],[-53.75,-27.35],[-54.65,-28],[-55,-28.75],[-55.05,-29.95],[-54.8,-30.95],[-54.35,-31.75]],
[[-53.65,-32.5],[-53.05,-32.95],[-52.45,-33.2]],
[[-37.25,-13.75],[-37.7,-14.45],[-37.95,-15.45],[-38.05,-16.6],[-38.2,-18]],
[[-44,-25.85],[-44.3,-25.9],[-44.55,-26.2]],
[[-58.5,-31.75],[-57.6,-32.45],[-56.55,-33.4]],
[[-55.3,-34.45],[-54.65,-34.85]]];
const contourLabelsB=[[-42.6,-4.05,'220',42],[-40.15,-3.45,'200',42],[-48.2,-13.25,'180',22],[-48.85,-15.25,'160',5],[-48.1,-16.7,'140',0],[-51.25,-17.4,'120',-5],[-48.85,-18.7,'100',-5],[-46.8,-19.85,'80',0],[-52.25,-19.9,'60',-3],[-45.7,-21.65,'40',0],[-52.25,-21.95,'20',0],[-55.65,-24.75,'0',42],[-54.15,-32.15,'0',-62],[-36.75,-13,'-20',60],[-45.1,-26.75,'-20',42],[-55.95,-34.05,'-20',-42]];

const FONT="'Liberation Sans', Arial, sans-serif";
const GRAY='#BBBBBB';
const groups=[
  ['restinga',restinga,'#808080'],
  ['semideciduous',semideciduous,'#FFA500'],
  ['subtropical riverine',subtropicalRiverine,'#A020F0'],
  ['tropical riverine',tropicalRiverine,'#00FF00'],
  ['rain',rain,'#006400'],
  ['campo rupestre',campoRupestre,'#A52A2A'],
  ['rocky semideciduous',rockySemideciduous,'#FFFF00'],
  ['Araucaria-dominated',araucaria,'#FF0000'],
  ['cloud',cloud,'#0000FF'],
  ['rocky cloud',rockyCloud,'#ADD8E6']
];
const grids=[{left:112,top:87,width:483,height:671,show:true,borderColor:'#000',borderWidth:1.5,backgroundColor:'transparent',outerBoundsMode:'none',containLabel:false},
             {left:1043,top:87,width:483,height:671,show:true,borderColor:'#000',borderWidth:1.5,backgroundColor:'transparent',outerBoundsMode:'none',containLabel:false}];
function xAx(i){return {gridIndex:i,type:'value',min:-59.21,max:-33.79,name:'Longitude (°)',nameLocation:'middle',nameGap:76,
  nameTextStyle:{fontFamily:FONT,fontSize:30.6,color:'#000'},splitLine:{show:false},axisLine:{show:false},
  axisTick:{show:true,length:10,inside:false,lineStyle:{color:'#000',width:1.5},customValues:lonTicks},
  axisLabel:{show:true,margin:37,fontFamily:FONT,fontSize:28,color:'#000',customValues:lonTicks,formatter:v=>String(v)}};}
function yAx(i){return {gridIndex:i,type:'value',min:-35.25,max:-1.7,name:'Latitude (°)',nameLocation:'middle',nameRotate:90,nameGap:67,
  nameTextStyle:{fontFamily:FONT,fontSize:30.6,color:'#000'},splitLine:{show:false},axisLine:{show:false},
  axisTick:{show:true,length:10,inside:false,lineStyle:{color:'#000',width:1.5},customValues:latTicks},
  axisLabel:{show:true,rotate:90,margin:30,fontFamily:FONT,fontSize:28,color:'#000',customValues:latTicks,formatter:v=>String(v)}};}
const series=[];
function line(i,data,color,width,type,z,smooth){
  series.push({type:'line',xAxisIndex:i,yAxisIndex:i,data,symbol:'none',silent:true,z,smooth:smooth||false,animation:false,
    lineStyle:{color,width,type},emphasis:{disabled:true}});
}
[0,1].forEach(i=>{
  [coastLine,westBorder,paraguayBorder,boliviaBorder,laPlataShore,northShore].forEach(b=>line(i,b,GRAY,2,'solid',1));
  stateBorders.forEach(b=>line(i,b,GRAY,1.8,i===0?[14,2]:[9,4],1));
  groups.forEach(([name,pts,color],k)=>series.push({type:'scatter',name,xAxisIndex:i,yAxisIndex:i,data:pts,symbol:'circle',symbolSize:7,z:2+k*0.01,
    itemStyle:{color,opacity:1},silent:true}));
  (i===0?contoursA:contoursB).forEach(c=>line(i,c,'#000',1.7,'solid',4,0.3));
  series.push({type:'scatter',xAxisIndex:i,yAxisIndex:i,symbolSize:1,z:5,silent:true,itemStyle:{color:'transparent'},
    data:(i===0?contourLabelsA:contourLabelsB).map(l=>({value:[l[0],l[1]],label:{show:true,position:'inside',formatter:l[2],rotate:l[3],fontFamily:FONT,fontSize:17,color:'#000',opacity:1}}))});
});
const chart=echarts.init(document.getElementById('c'),null,{renderer:'canvas'});
const italicNames={'Araucaria-dominated':'{i|Araucaria}-dominated','campo rupestre':'{i|campo rupestre}','restinga':'{i|restinga}'};
chart.setOption({
  animation:false,backgroundColor:'#fff',
  title:[{text:'(a)',left:352,top:11,padding:0,textAlign:'center',textStyle:{fontFamily:FONT,fontSize:31,fontWeight:'bold',color:'#000'}},
         {text:'(b)',left:1284,top:11,padding:0,textAlign:'center',textStyle:{fontFamily:FONT,fontSize:31,fontWeight:'bold',color:'#000'}}],
  grid:grids,xAxis:[xAx(0),xAx(1)],yAxis:[yAx(0),yAx(1)],
  legend:{show:true,orient:'vertical',left:120,top:99,itemWidth:30,itemHeight:10,itemGap:4.4,icon:'circle',selectedMode:false,data:legendNames,
    formatter:n=>italicNames[n]||n,
    textStyle:{fontFamily:FONT,fontSize:20.5,color:'#000',lineHeight:20,rich:{i:{fontFamily:FONT,fontSize:20.5,fontStyle:'italic',color:'#000',lineHeight:20}}}},
  series
});
</script></body></html>
